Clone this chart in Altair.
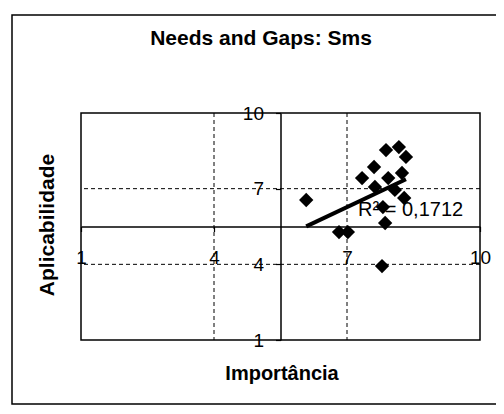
import altair as alt
import pandas as pd

# Data
importancia = [6.08, 6.82, 7.02, 7.86, 7.81, 7.79, 7.34, 7.61, 7.88, 8.17, 8.33, 8.24, 7.93, 7.63, 8.08, 8.29]
aplicabilidade = [6.55, 5.28, 5.28, 5.64, 6.27, 3.93, 7.42, 7.86, 8.53, 8.65, 8.26, 7.62, 7.42, 7.07, 6.95, 6.63]
tick_values = [1, 4, 7, 10]
grid_values = [4, 7]
r2_text = ["R\u00b2 = 0,1712"]
r2_x = [7.25]
r2_y = [5.92]

title_text = "Needs and Gaps: Sms"
x_title = "Importância"
y_title = "Aplicabilidade"

W, H = 399, 227
FONT = "Liberation Sans"

pts = pd.DataFrame({"imp": importancia, "apl": aplicabilidade})
grid_df = pd.DataFrame({"v": grid_values})
one = pd.DataFrame({"a": [0]})
r2_df = pd.DataFrame({"x": r2_x, "y": r2_y, "t": r2_text})

xs = alt.Scale(domain=[1, 10], nice=False, zero=False)
ys = alt.Scale(domain=[1, 10], nice=False, zero=False)

xaxis = alt.Axis(values=tick_values, offset=-H / 2, grid=False, domainColor="black",
                 domainWidth=1.5, tickColor="black", tickSize=5, tickWidth=1.2,
                 labelPadding=17, labelFontSize=19, labelFont=FONT, labelColor="black",
                 labelFlush=False, title=None, zindex=0)
yaxis = alt.Axis(values=tick_values, offset=-W / 2, grid=False, domainColor="black",
                 domainWidth=1.5, tickColor="black", tickSize=5, tickWidth=1.2,
                 labelPadding=12, labelFontSize=19, labelFont=FONT, labelColor="black",
                 labelFlush=False, title=None, zindex=0)

border = alt.Chart(one).mark_rect(fill=None, stroke="black", strokeWidth=1.5).encode(
    x=alt.value(-69), x2=alt.value(W + 40), y=alt.value(-98), y2=alt.value(H + 64)
)

vgrid = alt.Chart(grid_df).mark_rule(color="black", strokeWidth=1, strokeDash=[4, 3]).encode(
    x=alt.X("v:Q", scale=xs, axis=xaxis)
)
hgrid = alt.Chart(grid_df).mark_rule(color="black", strokeWidth=1, strokeDash=[4, 3]).encode(
    y=alt.Y("v:Q", scale=ys, axis=yaxis)
)

r2 = alt.Chart(r2_df).mark_text(font=FONT, fontSize=20, color="black", align="left",
                                baseline="alphabetic").encode(
    x=alt.X("x:Q", scale=xs), y=alt.Y("y:Q", scale=ys), text="t:N"
)

trend = alt.Chart(pts).transform_regression(on="imp", regression="apl").mark_line(
    color="black", strokeWidth=4).encode(
    x=alt.X("imp:Q", scale=xs), y=alt.Y("apl:Q", scale=ys)
)

points = alt.Chart(pts).mark_point(shape="diamond", filled=True, size=205, color="black",
                                   opacity=1).encode(
    x=alt.X("imp:Q", scale=xs), y=alt.Y("apl:Q", scale=ys)
)

title = alt.Chart(one).mark_text(font=FONT, fontSize=21, fontWeight="bold", color="black",
                                 align="center", baseline="alphabetic").encode(
    x=alt.value(180), y=alt.value(-68), text=alt.value(title_text)
)
xt = alt.Chart(one).mark_text(font=FONT, fontSize=20, fontWeight="bold", color="black",
                              align="center", baseline="alphabetic").encode(
    x=alt.value(201), y=alt.value(267), text=alt.value(x_title)
)
yt = alt.Chart(one).mark_text(font=FONT, fontSize=21, fontWeight="bold", color="black",
                              align="center", baseline="alphabetic", angle=270).encode(
    x=alt.value(-27), y=alt.value(112), text=alt.value(y_title)
)

chart = alt.layer(border, vgrid, hgrid, r2, trend, points, title, xt, yt).properties(
    width=W, height=H,
    autosize=alt.AutoSizeParams(type="none"),
    padding={"left": 73, "top": 105, "right": 16, "bottom": 66},
    background="white",
).configure_view(stroke="black", strokeWidth=1.5)

chart.save("out.html", embed_options={"renderer": "svg", "actions": False})
